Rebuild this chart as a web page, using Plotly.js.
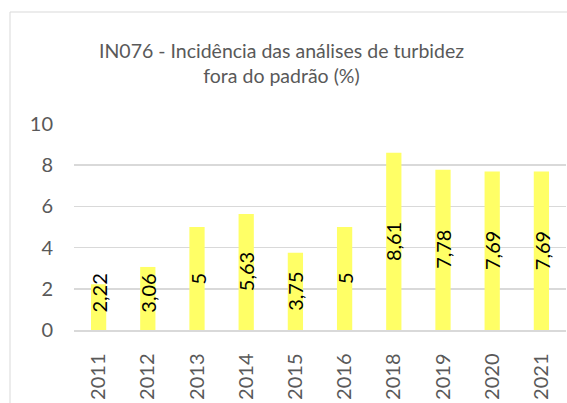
<!DOCTYPE html>
<html>
<head>
<meta charset="utf-8">
<script src="https://cdn.plot.ly/plotly-3.0.1.min.js"></script>
<style>
html,body{margin:0;padding:0;background:#fff;}
#chart{width:567px;height:403px;}
</style>
</head>
<body>
<div id="chart"></div>
<script>
var years = ['2011','2012','2013','2014','2015','2016','2018','2019','2020','2021'];
var values = [2.22, 3.06, 5, 5.63, 3.75, 5, 8.61, 7.78, 7.69, 7.69];
var valueLabels = ['2,22','3,06','5','5,63','3,75','5','8,61','7,78','7,69','7,69'];
var yTicks = [0, 2, 4, 6, 8, 10];

var plotL = 74, plotR = 566, plotT = 124, plotB = 330, W = 567, H = 403;
var pw = plotR - plotL, ph = plotB - plotT;

var annotations = years.map(function(c, i){
  return {
    x: i, y: Math.max(values[i] / 2, 1.8), xref: 'x', yref: 'y',
    text: valueLabels[i], showarrow: false, textangle: -90,
    font: {family: 'Lato, sans-serif', size: 20, color: '#000000'},
    xanchor: 'center', yanchor: 'middle'
  };
});

var data = [{
  type: 'bar',
  x: years,
  y: values,
  marker: {color: '#FFFF66', line: {width: 0}},
  hoverinfo: 'none'
}];

var layout = {
  width: W, height: H,
  margin: {l: plotL, r: W - plotR, t: plotT, b: H - plotB, pad: 0},
  paper_bgcolor: '#ffffff',
  plot_bgcolor: '#ffffff',
  bargap: 0.69,
  showlegend: false,
  title: {
    text: 'IN076 - Incidência das análises de turbidez<br>fora do padrão (%)',
    font: {family: 'Lato, sans-serif', size: 19.5, color: '#595959'},
    x: 281.5 / W, xref: 'container', xanchor: 'center',
    y: 1 - 58 / H, yref: 'container', yanchor: 'middle'
  },
  xaxis: {
    type: 'category',
    categoryorder: 'array', categoryarray: years,
    range: [-0.5, years.length - 0.5],
    autorange: false,
    tickangle: -90,
    tickfont: {family: 'Lato, sans-serif', size: 20, color: '#595959'},
    showgrid: false,
    showline: true, linecolor: '#D9D9D9', linewidth: 1.5,
    ticks: '', ticklabelstandoff: 14,
    fixedrange: true
  },
  yaxis: {
    range: [0, 10],
    autorange: false,
    tickvals: yTicks,
    ticktext: yTicks.map(String),
    tickfont: {family: 'Lato, sans-serif', size: 20, color: '#595959'},
    showgrid: true, gridcolor: '#D9D9D9', gridwidth: 1.5,
    zeroline: false, showline: false,
    ticks: '', ticklabelstandoff: 20,
    fixedrange: true
  },
  annotations: annotations,
  shapes: [{
    type: 'rect', xref: 'paper', yref: 'paper', layer: 'below',
    x0: (10 - plotL) / pw, x1: (W + 20 - plotL) / pw,
    y0: (plotB - (H + 20)) / ph, y1: (plotB - 12) / ph,
    line: {color: '#D9D9D9', width: 1}, fillcolor: 'rgba(0,0,0,0)'
  }]
};

Plotly.newPlot('chart', data, layout, {displayModeBar: false, staticPlot: true});
</script>
</body>
</html>
